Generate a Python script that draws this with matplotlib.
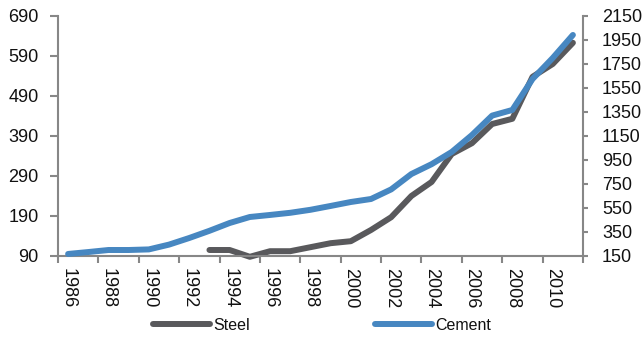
import numpy as np
import matplotlib
matplotlib.use("Agg")
import matplotlib.pyplot as plt
from matplotlib.ticker import FixedLocator, FuncFormatter, NullFormatter

years = list(range(1986, 2012))
steel = [np.nan, np.nan, np.nan, np.nan, np.nan, np.nan, np.nan,
         105, 105, 88, 102, 102, 112, 122, 127, 155, 187, 240, 275,
         345, 372, 420, 433, 538, 570, 623]
cement = [167, 183, 200, 200, 205, 245, 300, 360, 425, 475, 492, 510, 535,
          567, 600, 625, 705, 833, 915, 1017, 1158, 1320, 1367, 1625, 1800, 1992]

left_ticks = [90, 190, 290, 390, 490, 590, 690]
right_ticks = [150, 350, 550, 750, 950, 1150, 1350, 1550, 1750, 1950, 2150]

steel_color = "#59595c"
cement_color = "#4787c1"
axis_color = "#878787"
text_color = "#111111"

plt.rcParams["font.family"] = ["Liberation Sans", "DejaVu Sans"]

fig = plt.figure(figsize=(6.43, 3.38), dpi=100)
ax = fig.add_axes([58 / 643, 1 - 256 / 338, (583 - 58) / 643, 240 / 338])
ax2 = ax.twinx()

x = np.arange(len(years))
ax.plot(x, steel, color=steel_color, lw=4.3, solid_capstyle="round",
        solid_joinstyle="round", clip_on=False, label="Steel")
ax2.plot(x, cement, color=cement_color, lw=4.3, solid_capstyle="round",
         solid_joinstyle="round", clip_on=False, label="Cement")

ax.set_xlim(-0.5, len(years) - 0.5)
ax.set_ylim(90, 690)
ax2.set_ylim(150, 2150)

ax.set_yticks(left_ticks)
ax2.set_yticks(right_ticks)

# Year labels centred on categories, tick marks between category pairs
ax.xaxis.set_major_locator(FixedLocator(x[::2]))
ax.xaxis.set_major_formatter(FuncFormatter(lambda v, p: str(years[int(round(v))])))
ax.xaxis.set_minor_locator(FixedLocator(np.arange(-0.5, len(years), 2)))
ax.xaxis.set_minor_formatter(NullFormatter())
ax.tick_params(axis="x", which="major", length=0, pad=8.5, labelrotation=270,
               labelsize=13, labelcolor=text_color)
ax.tick_params(axis="x", which="minor", length=5, width=1.5, color=axis_color)

ax.tick_params(axis="y", length=5.5, width=1.5, color=axis_color, pad=8.5,
               labelsize=13, labelcolor=text_color)
ax2.tick_params(axis="y", length=3.6, width=1.5, color=axis_color, pad=10,
                labelsize=13, labelcolor=text_color)

for a in (ax, ax2):
    a.spines["top"].set_visible(False)
    for s in ("left", "right", "bottom"):
        a.spines[s].set_color(axis_color)
        a.spines[s].set_linewidth(1.5)
ax.spines["right"].set_visible(False)
ax2.spines["left"].set_visible(False)
ax2.spines["bottom"].set_visible(False)

h1, l1 = ax.get_legend_handles_labels()
h2, l2 = ax2.get_legend_handles_labels()
fig.legend(h1 + h2, l1 + l2, loc="center", bbox_to_anchor=(322 / 643, 1 - 325 / 338),
           ncol=2, frameon=False, fontsize=11.5, handlelength=3.6,
           handletextpad=0.2, columnspacing=7.8, borderpad=0, borderaxespad=0,
           labelcolor=text_color)

fig.savefig("out.png", dpi=100)
